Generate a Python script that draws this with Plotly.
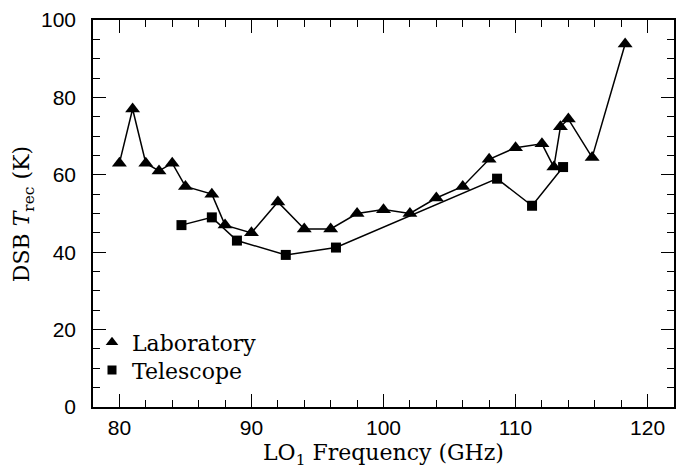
import plotly.graph_objects as go

# Data
lab_freq = [80, 81, 82, 83, 84, 85, 87, 88, 90, 92, 94, 96, 98, 100, 102,
            104, 106, 108, 110, 112, 112.9, 113.4, 114, 115.8, 118.3]
lab_trec = [63, 77, 63, 61, 63, 57, 55, 47, 45, 53, 46, 46, 50, 51, 50,
            54, 57, 64, 67, 68, 62, 72.4, 74.4, 64.5, 93.8]

tel_freq = [84.7, 87.0, 88.9, 92.6, 96.4, 108.6, 111.25, 113.6]
tel_trec = [47, 49, 43, 39.3, 41.2, 59, 52, 62]

x_ticks = [80, 90, 100, 110, 120]
y_ticks = [0, 20, 40, 60, 80, 100]

W, H = 684, 468
ML, MR, MT, MB = 93, 8, 18, 61
PW, PH = W - ML - MR, H - MT - MB

serif = "DejaVu Serif"
sans = "Liberation Sans"

fig = go.Figure()
fig.add_trace(go.Scatter(x=lab_freq, y=lab_trec, mode="lines+markers",
                         line=dict(color="black", width=1.5),
                         marker=dict(symbol="triangle-up", size=13, color="black"),
                         showlegend=False, name="Laboratory"))
fig.add_trace(go.Scatter(x=tel_freq, y=tel_trec, mode="lines+markers",
                         line=dict(color="black", width=1.5),
                         marker=dict(symbol="square", size=10, color="black"),
                         showlegend=False, name="Telescope"))
# legend entries (markers only)
fig.add_trace(go.Scatter(x=[None], y=[None], mode="markers", name="Laboratory",
                         legend="legend",
                         marker=dict(symbol="triangle-up", size=11, color="black")))
fig.add_trace(go.Scatter(x=[None], y=[None], mode="markers", name="Telescope",
                         legend="legend2",
                         marker=dict(symbol="square", size=9, color="black")))

axis_common = dict(showline=True, linecolor="black", linewidth=1.6, mirror="ticks",
                   ticks="inside", ticklen=13, tickwidth=1.3, tickcolor="black",
                   showgrid=False, zeroline=False,
                   tickfont=dict(family=sans, size=21, color="black"))

fig.update_xaxes(range=[78, 122], tickvals=x_ticks, ticklabelstandoff=1,
                 minor=dict(dtick=2, tick0=80, ticks="inside", ticklen=7,
                            tickwidth=1.3, tickcolor="black"),
                 **axis_common)
fig.update_yaxes(range=[0, 100], tickvals=y_ticks, ticklabelstandoff=11,
                 minor=dict(dtick=5, tick0=0, ticks="inside", ticklen=7,
                            tickwidth=1.3, tickcolor="black"),
                 **axis_common)

fig.add_annotation(text="LO<sub>1</sub> Frequency (GHz)", xref="paper", yref="paper",
                   x=0.5, y=(407 - 455) / PH, showarrow=False,
                   xanchor="center", yanchor="middle",
                   font=dict(family=serif, size=22, color="black"))
fig.add_annotation(text="DSB <i>T</i><sub>rec</sub> (K)", xref="paper", yref="paper",
                   x=(24 - ML) / PW, y=(407 - 213) / PH, showarrow=False,
                   textangle=-90, xanchor="center", yanchor="middle",
                   font=dict(family=serif, size=22, color="black"))

leg_common = dict(xanchor="left", yanchor="middle", bgcolor="rgba(0,0,0,0)",
                  font=dict(family=serif, size=22, color="black"), itemwidth=30)
fig.update_layout(width=W, height=H, margin=dict(l=ML, r=MR, t=MT, b=MB),
                  plot_bgcolor="white", paper_bgcolor="white",
                  legend=dict(x=(92 - ML) / PW, y=(407 - 342) / PH, **leg_common),
                  legend2=dict(x=(92 - ML) / PW, y=(407 - 370) / PH, **leg_common))

fig.write_html("out.html")
